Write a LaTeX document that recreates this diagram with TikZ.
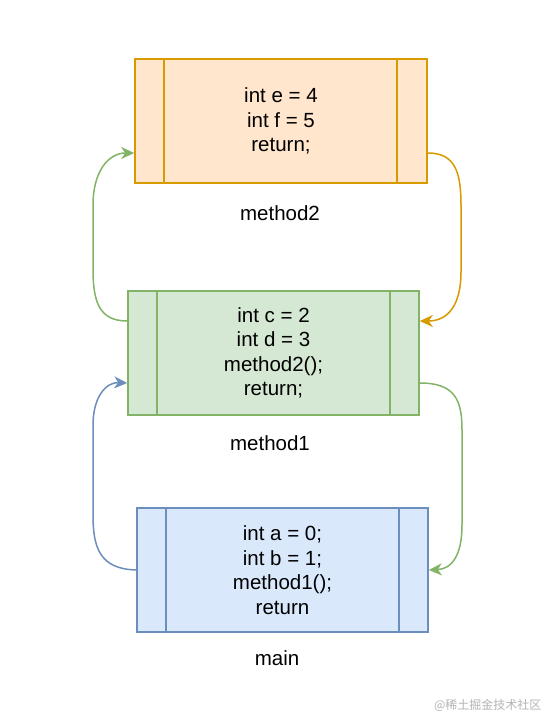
\documentclass[tikz,border=0pt]{standalone}
\usepackage{fontspec}
\setmainfont{Liberation Sans}
\newfontfamily\cjkfont{Noto Sans CJK SC}
\usetikzlibrary{arrows.meta}
\definecolor{ofill}{HTML}{FFE6CC}
\definecolor{oline}{HTML}{D79B00}
\definecolor{gfill}{HTML}{D5E8D4}
\definecolor{gline}{HTML}{82B366}
\definecolor{bfill}{HTML}{DAE8FC}
\definecolor{bline}{HTML}{6C8EBF}
\definecolor{wmark}{HTML}{B4B4B4}
\tikzset{
  txt/.style={font=\fontsize{20.5}{24.5}\selectfont, align=center},
  procbox/.style={txt, draw, line width=1.6pt, minimum width=291pt, minimum height=124pt, inner sep=0pt},
  inner/.style={line width=1.6pt},
  conn/.style={line width=1.5pt, -{Stealth[length=13pt,width=12pt,inset=4pt]}},
}
\begin{document}
\begin{tikzpicture}[x=1pt,y=-1pt]
\useasboundingbox[fill=white] (0,0) rectangle (550,718);

\node[procbox, draw=oline, fill=ofill, minimum width=292pt] (m2) at (281,121) {int e = 4\\int f = 5\\return;};
\node[procbox, draw=gline, fill=gfill] (m1) at (273.5,353) {int c = 2\\int d = 3\\method2();\\return;};
\node[procbox, draw=bline, fill=bfill] (mn) at (282.5,570) {int a = 0;\\int b = 1;\\method1();\\return};

\draw[oline, inner] ([xshift=30pt]m2.north west) -- ([xshift=30pt]m2.south west);
\draw[oline, inner] ([xshift=-31pt]m2.north east) -- ([xshift=-31pt]m2.south east);
\draw[gline, inner] ([xshift=30pt]m1.north west) -- ([xshift=30pt]m1.south west);
\draw[gline, inner] ([xshift=-30pt]m1.north east) -- ([xshift=-30pt]m1.south east);
\draw[bline, inner] ([xshift=30pt]mn.north west) -- ([xshift=30pt]mn.south west);
\draw[bline, inner] ([xshift=-30pt]mn.north east) -- ([xshift=-30pt]mn.south east);

\node[txt] (l2) at (280,213) {method2};
\node[txt] (l1) at (270,443) {method1};
\node[txt] (l0) at (277,658) {main};

% green: method1 -> method2 (left)
\draw[conn, gline] ([yshift=32pt]m1.west) .. controls (98,321) and (93,300) .. (93,268)
  -- (93,205) .. controls (93,172) and (108,153) .. ([yshift=-32pt]m2.west);
% orange: method2 -> method1 (right)
\draw[conn, oline] ([yshift=-32pt]m2.east) .. controls (455,153) and (461,172) .. (461,205)
  -- (461,272) .. controls (461,305) and (448,321) .. ([yshift=32pt]m1.east);
% blue: main -> method1 (left)
\draw[conn, bline] (mn.west) .. controls (100,569) and (93,548) .. (93,515)
  -- (93,425) .. controls (93,397) and (106,382) .. ([yshift=-30pt]m1.west);
% green: method1 -> main (right)
\draw[conn, gline] ([yshift=-30pt]m1.east) .. controls (455,383) and (462,400) .. (462,430)
  -- (462,525) .. controls (462,555) and (452,569) .. (mn.east);

\node[font=\cjkfont\fontsize{12}{14}\selectfont, text=wmark, anchor=east] (wm) at (545,705) {@稀土掘金技术社区};
\end{tikzpicture}
\end{document}
